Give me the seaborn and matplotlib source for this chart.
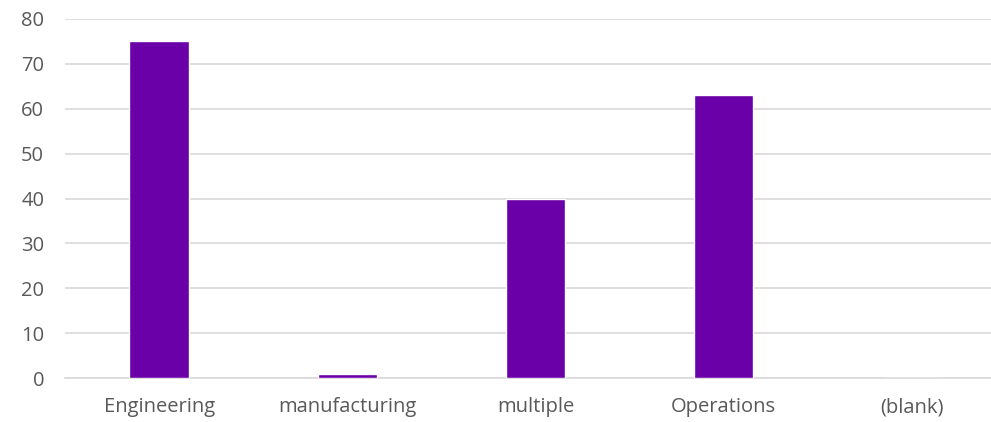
import matplotlib
matplotlib.use("Agg")
import matplotlib.pyplot as plt
import seaborn as sns
import pandas as pd

categories = ["Engineering", "manufacturing", "multiple", "Operations", "(blank)"]
values = [75, 1, 40, 63, 0]
yticks = [0, 10, 20, 30, 40, 50, 60, 70, 80]

sns.set_theme(style="white")
plt.rcParams['font.family'] = ['Open Sans', 'DejaVu Sans']

df = pd.DataFrame({"cat": categories, "val": values})
fig = plt.figure(figsize=(9.91, 4.22), dpi=100)
ax = fig.add_axes([65/991, 1-378/422, (1006-65)/991, (378-19)/422])
sns.barplot(data=df, x="cat", y="val", color="#6A00A8", width=0.315, ax=ax, zorder=3, saturation=1)
ax.set_ylim(0, 80)
ax.set_yticks(yticks)
ax.set_xlim(-0.5, 4.5)
ax.yaxis.grid(True, color="#D9D9D9", linewidth=1.2, zorder=0)
ax.set_axisbelow(True)
for s in ["top", "right", "left"]:
    ax.spines[s].set_visible(False)
ax.spines["bottom"].set_color("#D9D9D9")
ax.spines["bottom"].set_linewidth(1.2)
ax.set_xlabel("")
ax.set_ylabel("")
ax.tick_params(axis="both", length=0, labelsize=14.5, labelcolor="#595959")
ax.tick_params(axis="y", pad=15)
ax.tick_params(axis="x", pad=14)
fig.savefig("out.png", dpi=100)
